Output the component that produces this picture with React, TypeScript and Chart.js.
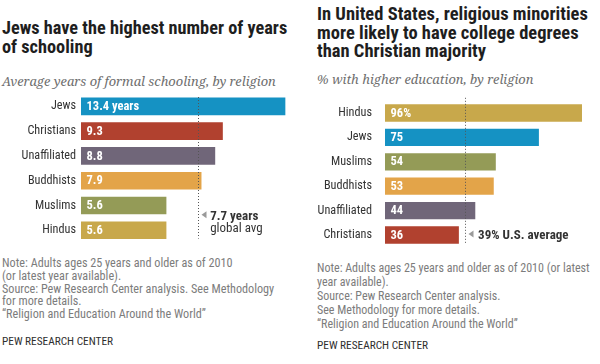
import React, { useEffect, useRef } from "react";
import { Chart, registerables } from "chart.js";

Chart.register(...registerables);

// ---------- data ----------
const LEFT_CATEGORIES = ["Jews", "Christians", "Unaffiliated", "Buddhists", "Muslims", "Hindus"];
const LEFT_VALUES = [13.4, 9.3, 8.8, 7.9, 5.6, 5.6];
const LEFT_AVERAGE = 7.7;
const LEFT_AVG_LABELS = ["7.7 years", "global avg"];

const RIGHT_CATEGORIES = ["Hindus", "Jews", "Muslims", "Buddhists", "Unaffiliated", "Christians"];
const RIGHT_VALUES = [96, 75, 54, 53, 44, 36];
const RIGHT_AVERAGE = 39;
const RIGHT_AVG_LABELS = ["39% U.S. average"];

const RELIGION_COLORS: Record<string, string> = {
  Jews: "#1592c3",
  Christians: "#b1412f",
  Unaffiliated: "#706679",
  Buddhists: "#e3a449",
  Muslims: "#949b57",
  Hindus: "#c8a84b",
};

// ---------- styling ----------
const SANS = "'Roboto Condensed', Roboto, sans-serif";
const SERIF = "'Noto Serif', Georgia, serif";

const valueLabelPlugin = {
  id: "valueLabels",
  afterDatasetsDraw(chart: any, _args: any, opts: any) {
    const ctx = chart.ctx;
    const meta = chart.getDatasetMeta(0);
    const data = chart.data.datasets[0].data;
    ctx.save();
    ctx.fillStyle = "#ffffff";
    ctx.font = `bold 12.5px ${SANS}`;
    ctx.textBaseline = "middle";
    ctx.textAlign = "left";
    meta.data.forEach((bar: any, i: number) => {
      const label = i === 0 ? `${data[i]}${opts.firstSuffix}` : `${data[i]}`;
      ctx.fillText(label, bar.base + opts.inset, bar.y + 0.5);
    });
    ctx.restore();
  },
};

const averagePlugin = {
  id: "averageLine",
  afterDatasetsDraw(chart: any, _args: any, opts: any) {
    const ctx = chart.ctx;
    const x = Math.round(chart.scales.x.getPixelForValue(opts.value)) + 0.5;
    const area = chart.chartArea;
    ctx.save();
    ctx.strokeStyle = "#555555";
    ctx.lineWidth = 1;
    ctx.setLineDash([1, 2]);
    ctx.beginPath();
    ctx.moveTo(x, area.top + opts.topOffset);
    ctx.lineTo(x, area.bottom + opts.bottomOffset);
    ctx.stroke();
    ctx.setLineDash([]);

    const meta = chart.getDatasetMeta(0);
    const anchor = meta.data[meta.data.length - 1];
    const yc = anchor.y + opts.markerDy;
    ctx.fillStyle = "#9a9a9a";
    ctx.beginPath();
    ctx.moveTo(x + 3, yc);
    ctx.lineTo(x + 8, yc - 3.5);
    ctx.lineTo(x + 8, yc + 3.5);
    ctx.closePath();
    ctx.fill();

    ctx.fillStyle = "#333333";
    ctx.textAlign = "left";
    ctx.textBaseline = "alphabetic";
    opts.lines.forEach((ln: any) => {
      ctx.font = `${ln.bold ? "bold " : ""}13px ${SANS}`;
      ctx.fillText(ln.text, x + opts.textDx, anchor.y + ln.dy);
    });
    ctx.restore();
  },
};

type PanelProps = {
  categories: string[];
  values: number[];
  max: number;
  average: number;
  firstSuffix: string;
  axisWidth: number;
  tickPadding: number;
  padding: { top: number; bottom: number; right: number };
  barPercentage: number;
  avgOpts: any;
  style: React.CSSProperties;
};

function BarPanel(p: PanelProps) {
  const ref = useRef<HTMLCanvasElement>(null);
  useEffect(() => {
    const chart = new Chart(ref.current!, {
      type: "bar",
      data: {
        labels: p.categories,
        datasets: [
          {
            data: p.values,
            backgroundColor: p.categories.map((c) => RELIGION_COLORS[c]),
            borderWidth: 0,
            barPercentage: p.barPercentage,
            categoryPercentage: 1,
          },
        ],
      },
      options: {
        indexAxis: "y",
        animation: false,
        responsive: false,
        events: [],
        layout: { padding: { left: 0, right: p.padding.right, top: p.padding.top, bottom: p.padding.bottom } },
        plugins: {
          legend: { display: false },
          tooltip: { enabled: false },
          title: { display: false },
          valueLabels: { firstSuffix: p.firstSuffix, inset: 5.5 },
          averageLine: { value: p.average, ...p.avgOpts },
        } as any,
        scales: {
          x: { display: false, min: 0, max: p.max },
          y: {
            grid: { display: false, drawTicks: false },
            border: { display: false },
            ticks: {
              color: "#333333",
              padding: p.tickPadding,
              font: { family: SANS, size: 12.2 },
            },
            afterFit: (scale: any) => {
              scale.width = p.axisWidth;
            },
          },
        },
      },
      plugins: [valueLabelPlugin, averagePlugin],
    });
    return () => chart.destroy();
  }, []);
  return <canvas ref={ref} width={300} height={364} style={{ position: "absolute", ...p.style }} />;
}

const abs = (s: React.CSSProperties): React.CSSProperties => ({ position: "absolute", whiteSpace: "nowrap", margin: 0, ...s });

export default function App() {
  useEffect(() => {
    document.body.style.margin = "0";
    document.body.style.background = "#ffffff";
  }, []);
  return (
    <div style={{ position: "relative", width: 600, height: 364, overflow: "hidden", background: "#fff" }}>
      {/* left panel texts */}
      <div style={abs({ left: 2, top: 19.2, font: `bold 18.3px/18.6px ${SANS}`, color: "#1e1e1e" })}>
        Jews have the highest number of years
        <br />
        of schooling
      </div>
      <div style={abs({ left: 2, top: 73, font: `italic 12.9px/16px ${SERIF}`, color: "#6e6e6e" })}>
        Average years of formal schooling, by religion
      </div>
      <div style={abs({ left: 2, top: 257.3, font: `12.2px/12.7px ${SANS}`, color: "#7c7c7c" })}>
        Note: Adults ages 25 years and older as of 2010
        <br />
        (or latest year available).
        <br />
        Source: Pew Research Center analysis. See Methodology
        <br />
        for more details.
        <br />
        “Religion and Education Around the World”
      </div>
      <div style={abs({ left: 2, top: 334.5, font: `11.3px/13px ${SANS}`, color: "#2e2e2e" })}>PEW RESEARCH CENTER</div>

      {/* right panel texts */}
      <div style={abs({ left: 317, top: 5.3, font: `bold 18.5px/18.2px ${SANS}`, color: "#1e1e1e" })}>
        In United States, religious minorities
        <br />
        more likely to have college degrees
        <br />
        than Christian majority
      </div>
      <div style={abs({ left: 317, top: 70.5, font: `italic 12.9px/16px ${SERIF}`, color: "#6e6e6e" })}>
        % with higher education, by religion
      </div>
      <div style={abs({ left: 317, top: 262, font: `12px/13.9px ${SANS}`, color: "#7c7c7c" })}>
        Note: Adults ages 25 years and older as of 2010 (or latest
        <br />
        year available).
        <br />
        Source: Pew Research Center analysis.
        <br />
        See Methodology for more details.
        <br />
        “Religion and Education Around the World”
      </div>
      <div style={abs({ left: 317, top: 338.6, font: `11.3px/13px ${SANS}`, color: "#2e2e2e" })}>PEW RESEARCH CENTER</div>

      <BarPanel
        categories={LEFT_CATEGORIES}
        values={LEFT_VALUES}
        max={14}
        average={LEFT_AVERAGE}
        firstSuffix=" years"
        axisWidth={81}
        tickPadding={5}
        padding={{ top: 94, bottom: 121.4, right: 5.5 }}
        barPercentage={0.71}
        avgOpts={{
          topOffset: 3,
          bottomOffset: -4,
          markerDy: -15.5,
          textDx: 11.7,
          lines: [
            { text: LEFT_AVG_LABELS[0], bold: true, dy: -10.2 },
            { text: LEFT_AVG_LABELS[1], bold: false, dy: 1.8 },
          ],
        }}
        style={{ left: 0, top: 0 }}
      />
      <BarPanel
        categories={RIGHT_CATEGORIES}
        values={RIGHT_VALUES}
        max={100}
        average={RIGHT_AVERAGE}
        firstSuffix="%"
        axisWidth={85}
        tickPadding={13}
        padding={{ top: 100.8, bottom: 116.8, right: 9.8 }}
        barPercentage={0.71}
        avgOpts={{
          topOffset: -3,
          bottomOffset: -4,
          markerDy: -1,
          textDx: 12.6,
          lines: [{ text: RIGHT_AVG_LABELS[0], bold: true, dy: 3.8 }],
        }}
        style={{ left: 300, top: 0 }}
      />
    </div>
  );
}
